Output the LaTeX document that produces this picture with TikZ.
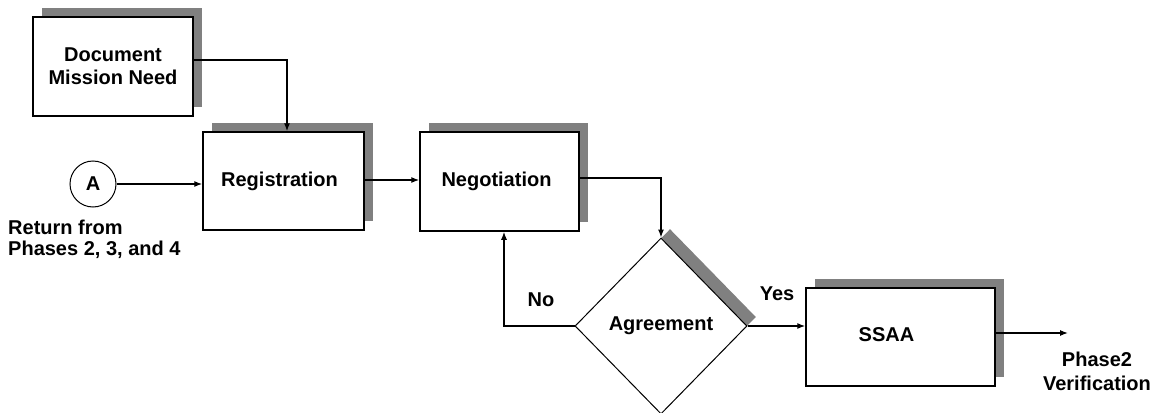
\documentclass[tikz,border=0pt]{standalone}
\usepackage{fontspec}
\setmainfont{Liberation Sans}
\usetikzlibrary{arrows.meta,shapes.geometric,shadows}
\definecolor{shadowgray}{RGB}{128,128,128}
\begin{document}
\begin{tikzpicture}[x=1pt,y=-1pt,
  font=\fontsize{20}{21}\selectfont\bfseries,
  shd/.style={drop shadow={shadow xshift=9pt,shadow yshift=9pt,fill=shadowgray,opacity=1}},
  procbox/.style={draw,line width=1.5pt,fill=white,shd,inner sep=0pt,align=center},
  decbox/.style={diamond,draw,line width=1pt,fill=white,shd,inner sep=0pt,aspect=1},
  conn/.style={line width=1.3pt,-{Latex[length=8pt,width=6pt]}},
  lbl/.style={inner sep=0pt,align=center}
]
\useasboundingbox (0,0) rectangle (1161,412);
\node[procbox,minimum width=160pt,minimum height=99pt] (doc) at (113,66.5) {Document\\[2pt]Mission Need};
\node[procbox,minimum width=161pt,minimum height=98pt] (reg) at (283.5,181) {Registration\hspace*{8pt}};
\node[procbox,minimum width=159pt,minimum height=99pt] (neg) at (499.5,181.5) {\raisebox{4pt}{Negotiation\hspace*{6pt}}};
\node[decbox,minimum width=172pt,minimum height=176pt] (agr) at (661,326) {Agreement};
\node[procbox,minimum width=189pt,minimum height=98pt] (ssaa) at (900.5,337) {\raisebox{4pt}{SSAA\hspace*{28pt}}};
\node[circle,draw,line width=1pt,minimum size=46pt,inner sep=0pt] (A) at (93,184) {A};
\node[lbl,align=left,anchor=west] (ret) at (8,239) {Return from\\Phases 2, 3, and 4};
\node[lbl] (no) at (541,300) {No};
\node[lbl] (yes) at (777,294) {Yes};
\node[lbl] (ph2) at (1097,371) {Phase2\\[3pt]Verification};
\coordinate (out) at (1068,333);

\draw[conn] ([yshift=6.5pt]doc.east) -| ([xshift=3.5pt]reg.north);
\draw[conn] (A.east) -- (A.east -| reg.west);
\draw[conn] ([yshift=1pt]reg.east) -- ([yshift=1pt]reg.east -| neg.west);
\draw[conn] ([yshift=3.5pt]neg.east) -| (agr.north);
\draw[conn] (agr.west) -| ([xshift=4.5pt]neg.south);
\draw[conn] (agr.east) -- (agr.east -| ssaa.west);
\draw[conn] ([yshift=4pt]ssaa.east) -- (out);
\end{tikzpicture}
\end{document}
